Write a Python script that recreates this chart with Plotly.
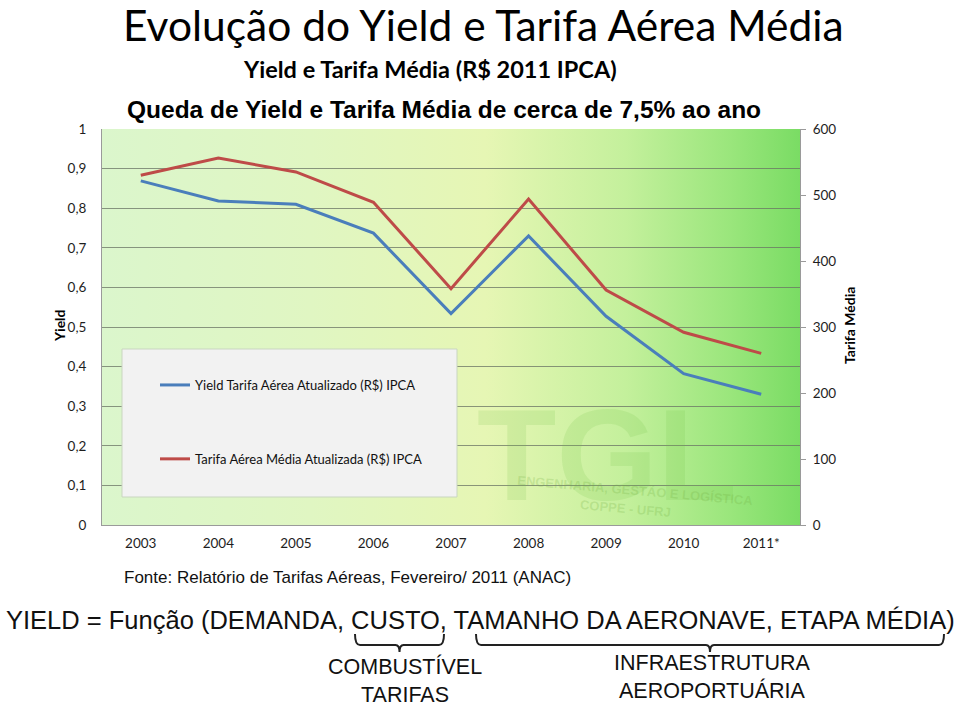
import plotly.graph_objects as go

# ---- data ----
years = ["2003", "2004", "2005", "2006", "2007", "2008", "2009", "2010", "2011*"]
yield_values = [0.869, 0.818, 0.810, 0.737, 0.534, 0.730, 0.527, 0.382, 0.330]
tarifa_values = [530, 556, 535, 489, 358, 494, 356, 292, 260]
left_tickvals = [0, 0.1, 0.2, 0.3, 0.4, 0.5, 0.6, 0.7, 0.8, 0.9, 1.0]
left_ticktext = ["0", "0,1", "0,2", "0,3", "0,4", "0,5", "0,6", "0,7", "0,8", "0,9", "1"]
right_tickvals = [0, 100, 200, 300, 400, 500, 600]
right_ticktext = ["0", "100", "200", "300", "400", "500", "600"]
series_names = ["Yield Tarifa Aérea Atualizado (R$) IPCA",
                "Tarifa Aérea Média Atualizada (R$) IPCA"]

# ---- layout geometry (pixels) ----
W, H = 960, 710
L, R, T, B = 102, 800, 129, 525
PW, PH = R - L, B - T


def px(x):
    return (x - L) / PW


def py(y):
    return (B - y) / PH


CAL = "Lato, 'Open Sans', sans-serif"
ARI = "'Liberation Sans', Arial, sans-serif"

fig = go.Figure()

# background gradient (decorative) on its own hidden subplot
fig.add_trace(go.Scatter(
    x=[0, 1, 1, 0, 0], y=[0, 0, 1, 1, 0], xaxis="x", yaxis="y",
    mode="lines", line=dict(width=0), fill="toself",
    fillgradient=dict(type="horizontal",
                      colorscale=[[0, "#dbf6cc"], [0.3, "#e0f6c2"], [0.55, "#e6f6b4"],
                                  [0.75, "#c4f09c"], [0.9, "#9ae67c"], [1, "#7adc64"]]),
    hoverinfo="skip", showlegend=False))

fig.add_trace(go.Scatter(
    x=years, y=yield_values, xaxis="x2", yaxis="y2", mode="lines",
    name=series_names[0], legendgroup="a",
    line=dict(color="#4a7ebb", width=3)))
fig.add_trace(go.Scatter(
    x=years, y=tarifa_values, xaxis="x2", yaxis="y3", mode="lines",
    name=series_names[1], legendgroup="b",
    line=dict(color="#be4b48", width=3)))

shapes = []
# legend box
shapes.append(dict(type="rect", xref="paper", yref="paper",
                   x0=px(122), x1=px(457), y0=py(497), y1=py(349),
                   fillcolor="#f2f2f2", line=dict(color="#c9d6c0", width=1), layer="above"))


def brace(x0, x1, ytop, ybot, tip):
    xm = (x0 + x1) / 2
    pts = [
        ("M", x0, ytop),
        ("Q", x0, ybot, x0 + 5, ybot),
        ("L", xm - 4, ybot),
        ("Q", xm, ybot, xm, tip),
        ("Q", xm, ybot, xm + 4, ybot),
        ("L", x1 - 5, ybot),
        ("Q", x1, ybot, x1, ytop),
    ]
    s = ""
    for p in pts:
        cmd = p[0]
        coords = p[1:]
        parts = []
        for i in range(0, len(coords), 2):
            parts.append(f"{px(coords[i]):.5f},{py(coords[i+1]):.5f}")
        s += cmd + " " + " ".join(parts) + " "
    return s.strip()


shapes.append(dict(type="path", xref="paper", yref="paper",
                   path=brace(355, 444, 634, 645, 652),
                   line=dict(color="#222222", width=2)))
shapes.append(dict(type="path", xref="paper", yref="paper",
                   path=brace(476, 944, 634, 645, 652),
                   line=dict(color="#222222", width=2)))

annotations = []


def txt(text, x, y, size, font=CAL, bold=False, color="#000000", xanchor="center", angle=0):
    if bold:
        text = "<b>" + text + "</b>"
    annotations.append(dict(text=text, x=px(x), y=py(y), xref="paper", yref="paper",
                            xanchor=xanchor, yanchor="middle", showarrow=False,
                            textangle=angle,
                            font=dict(family=font, size=size, color=color)))


# watermark
txt("TGL", 607, 455, 130, font=ARI, bold=True, color="rgba(110,190,70,0.16)")
txt("ENGENHARIA, GESTÃO E LOGÍSTICA", 635, 490, 13, font=ARI, bold=True,
    color="rgba(110,170,60,0.22)", angle=5)
txt("COPPE - UFRJ", 625, 508, 13, font=ARI, bold=True, color="rgba(110,170,60,0.22)", angle=5)

txt("Evolução do Yield e Tarifa Aérea Média", 483, 24, 42.5)
txt("Yield e Tarifa Média (R$ 2011 IPCA)", 430, 69, 23.5, bold=True)
txt("Queda de Yield e Tarifa Média de cerca de 7,5% ao ano", 444, 110, 24.5, font=ARI, bold=True)
txt("Yield", 59, 326, 14, bold=True, angle=-90)
txt("Tarifa Média", 849, 326, 14, bold=True, angle=-90)
txt("Fonte: Relatório de Tarifas Aéreas, Fevereiro/ 2011 (ANAC)", 122, 577, 17,
    font=ARI, xanchor="left", color="#111111")
txt("YIELD = Função (DEMANDA, CUSTO, TAMANHO DA AERONAVE, ETAPA MÉDIA)", 480, 620, 25.5,
    font=ARI, color="#111111")
txt("COMBUSTÍVEL<br>TARIFAS", 405, 680, 21.5, font=ARI, color="#111111")
txt("INFRAESTRUTURA<br>AEROPORTUÁRIA", 712, 677, 21.5, font=ARI, color="#111111")

tickfont = dict(family=CAL, size=13.5, color="#1e1e1e")

fig.update_layout(
    width=W, height=H,
    margin=dict(l=L, r=W - R, t=T, b=H - B),
    paper_bgcolor="white", plot_bgcolor="rgba(0,0,0,0)",
    showlegend=True,
    legend=dict(x=px(155), y=py(370), xanchor="left", yanchor="top",
                bgcolor="rgba(0,0,0,0)", borderwidth=0,
                tracegroupgap=54, font=dict(family=CAL, size=13, color="#111111")),
    xaxis=dict(domain=[0, 1], range=[0, 1], visible=False, anchor="y", fixedrange=True),
    yaxis=dict(domain=[0, 1], range=[0, 1], visible=False, anchor="x", fixedrange=True),
    xaxis2=dict(domain=[0, 1], anchor="y2", type="category", categoryorder="array",
                categoryarray=years, range=[-0.5, len(years) - 0.5],
                showgrid=False, showline=True, linecolor="#9a9a9a", linewidth=1,
                ticks="", tickfont=tickfont, ticklabelstandoff=6),
    yaxis2=dict(domain=[0, 1], anchor="x2", range=[0, 1], tickvals=left_tickvals,
                ticktext=left_ticktext, showgrid=True, gridcolor="rgba(105,115,100,0.75)",
                gridwidth=1, zeroline=False, showline=True, linecolor="#9a9a9a",
                ticks="", tickfont=tickfont, ticklabelstandoff=12),
    yaxis3=dict(overlaying="y2", anchor="x2", side="right", range=[0, 600],
                tickvals=right_tickvals, ticktext=right_ticktext, showgrid=False,
                zeroline=False, showline=True, linecolor="#9a9a9a", ticks="outside",
                ticklen=5, tickcolor="#9a9a9a", tickfont=tickfont, ticklabelstandoff=4),
    shapes=shapes, annotations=annotations,
)

fig.write_html("out.html", config={"displayModeBar": False},
               post_script="document.body.style.margin='0';document.body.style.padding='0';")
